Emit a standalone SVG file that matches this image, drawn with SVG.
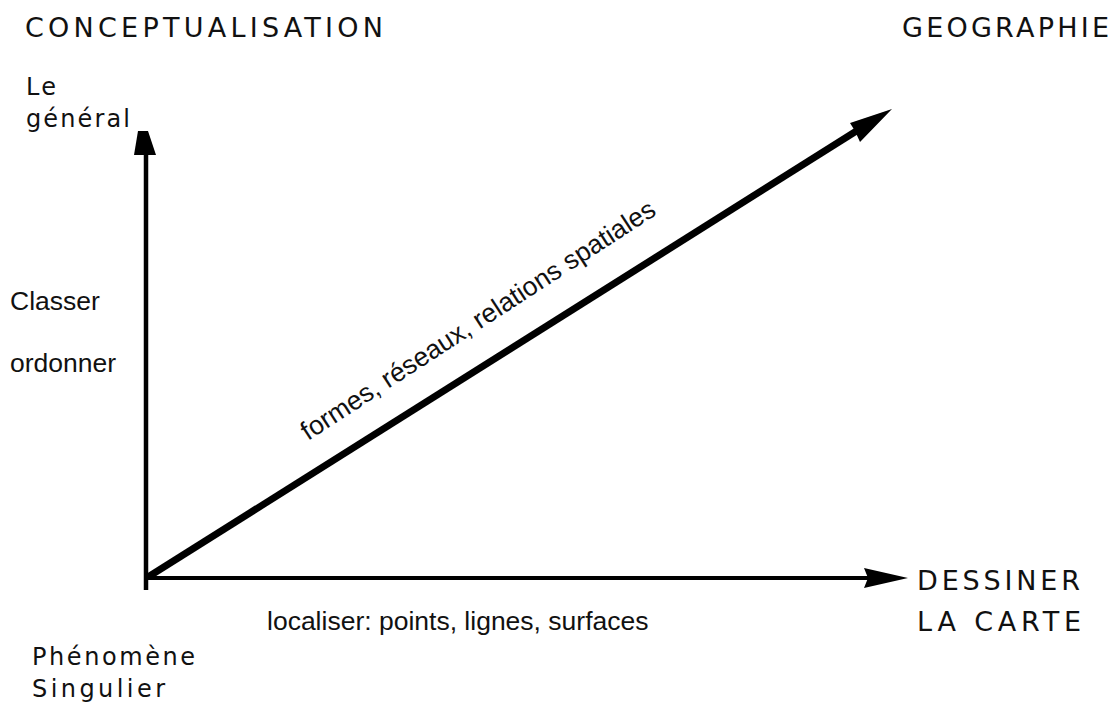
<svg xmlns="http://www.w3.org/2000/svg" width="1118" height="704" viewBox="0 0 1118 704">
<style>
.d{font-family:"DejaVu Sans",sans-serif;fill:#111;}
.a{font-family:"Liberation Sans",Arial,sans-serif;fill:#111;font-size:26.5px;}
.ax{stroke:#000;fill:none;}
.hd{fill:#000;}
</style>
<rect width="1118" height="704" fill="#fff"/>
<g id="connectors">
<line class="ax" x1="146" y1="590" x2="146" y2="150" stroke-width="4.5"/>
<polygon class="hd" points="138,131 148,131 156,155 134,155"/>
<line class="ax" x1="144" y1="578" x2="870" y2="578" stroke-width="4"/>
<polygon class="hd" points="864,568 908,578 864,588 868,578"/>
<line class="ax" x1="148" y1="577" x2="858" y2="130" stroke-width="7"/>
<polygon class="hd" points="892,109 860,142 855,131 850,123"/>
</g>
<g id="title-left"><text class="d" x="25" y="37" font-size="27" textLength="358" lengthAdjust="spacing">CONCEPTUALISATION</text></g>
<g id="title-right"><text class="d" x="902" y="37" font-size="27" textLength="207" lengthAdjust="spacing">GEOGRAPHIE</text></g>
<g id="top-label"><text class="d" x="26" y="95" font-size="24" textLength="30" lengthAdjust="spacing">Le</text><text class="d" x="26" y="127" font-size="24" textLength="104" lengthAdjust="spacing">général</text></g>
<g id="left-labels"><text class="a" x="10" y="310">Classer</text><text class="a" x="10" y="372">ordonner</text></g>
<g id="bottom-label"><text class="d" x="32" y="665" font-size="24" textLength="163" lengthAdjust="spacing">Phénomène</text><text class="d" x="32" y="697" font-size="24" textLength="133" lengthAdjust="spacing">Singulier</text></g>
<g id="axis-x-label"><text class="a" x="267" y="630">localiser: points, lignes, surfaces</text></g>
<g id="right-label"><text class="d" x="917" y="590" font-size="27" textLength="163" lengthAdjust="spacing">DESSINER</text><text class="d" x="917" y="631" font-size="27" textLength="164" lengthAdjust="spacing">LA CARTE</text></g>
<g id="diag-label"><text class="a" transform="translate(308,441) rotate(-33)">formes, réseaux, relations spatiales</text></g>
</svg>
